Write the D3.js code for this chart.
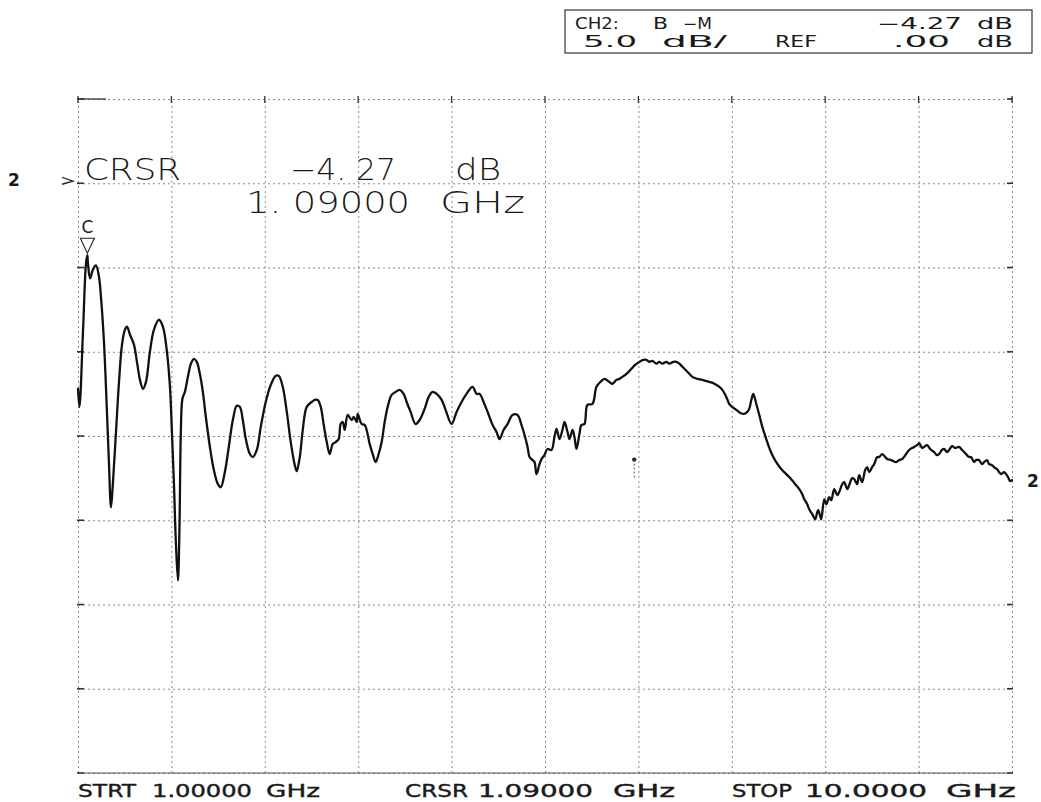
<!DOCTYPE html>
<html>
<head>
<meta charset="utf-8">
<script src="https://cdn.jsdelivr.net/npm/d3@7/dist/d3.min.js"></script>
<style>
  body { margin: 0; background: #fff; }
  svg { display: block; }
  .grid line { stroke: #8a8a8a; stroke-dasharray: 2,3; stroke-width: 1; }
  .grid path { display: none; }
  text { fill: #1a1a1a; font-family: "DejaVu Sans", sans-serif; }
</style>
</head>
<body>
<script>
// trace, frequency in GHz and magnitude in dB
const freqGHz = [1.000, 1.014, 1.048, 1.077, 1.090, 1.096, 1.116, 1.144, 1.173, 1.202, 1.221, 1.250, 1.279, 1.298, 1.318, 1.337, 1.366, 1.395, 1.424, 1.452,
  1.472, 1.501, 1.539, 1.568, 1.597, 1.626, 1.655, 1.693, 1.732, 1.780, 1.818, 1.857, 1.886, 1.905, 1.924, 1.943, 1.963, 1.977, 1.991, 2.006,
  2.030, 2.059, 2.088, 2.117, 2.145, 2.174, 2.203, 2.232, 2.271, 2.309, 2.348, 2.376, 2.415, 2.453, 2.492, 2.530, 2.559, 2.588, 2.617, 2.656,
  2.684, 2.723, 2.761, 2.809, 2.858, 2.906, 2.935, 2.973, 3.012, 3.050, 3.089, 3.108, 3.137, 3.166, 3.204, 3.252, 3.281, 3.310, 3.339, 3.368,
  3.397, 3.425, 3.454, 3.483, 3.512, 3.531, 3.551, 3.570, 3.599, 3.637, 3.657, 3.686, 3.695, 3.734, 3.763, 3.811, 3.840, 3.868, 3.897, 3.926,
  3.955, 3.984, 4.022, 4.061, 4.099, 4.138, 4.167, 4.205, 4.253, 4.292, 4.340, 4.379, 4.417, 4.456, 4.504, 4.542, 4.600, 4.648, 4.696, 4.744,
  4.802, 4.841, 4.870, 4.908, 4.947, 4.995, 5.033, 5.062, 5.101, 5.139, 5.187, 5.235, 5.274, 5.303, 5.332, 5.351, 5.380, 5.399, 5.418, 5.447,
  5.466, 5.495, 5.524, 5.562, 5.591, 5.611, 5.640, 5.668, 5.688, 5.717, 5.736, 5.765, 5.784, 5.803, 5.832, 5.851, 5.880, 5.909, 5.957, 5.996,
  6.034, 6.073, 6.121, 6.150, 6.188, 6.217, 6.246, 6.285, 6.333, 6.371, 6.410, 6.448, 6.477, 6.506, 6.535, 6.573, 6.602, 6.631, 6.670, 6.698,
  6.737, 6.766, 6.795, 6.824, 6.872, 6.920, 6.968, 7.016, 7.083, 7.132, 7.180, 7.209, 7.247, 7.276, 7.315, 7.343, 7.382, 7.420, 7.449, 7.468,
  7.488, 7.507, 7.536, 7.565, 7.594, 7.632, 7.661, 7.690, 7.728, 7.776, 7.825, 7.873, 7.911, 7.950, 7.979, 7.998, 8.027, 8.046, 8.075, 8.104,
  8.123, 8.133, 8.152, 8.162, 8.191, 8.210, 8.239, 8.258, 8.287, 8.316, 8.335, 8.364, 8.383, 8.412, 8.431, 8.460, 8.479, 8.508, 8.527, 8.556,
  8.585, 8.604, 8.624, 8.652, 8.672, 8.701, 8.720, 8.749, 8.778, 8.797, 8.835, 8.883, 8.912, 8.941, 8.980, 9.009, 9.057, 9.086, 9.105, 9.134,
  9.153, 9.182, 9.211, 9.249, 9.278, 9.297, 9.326, 9.345, 9.374, 9.394, 9.423, 9.451, 9.490, 9.519, 9.557, 9.586, 9.605, 9.634, 9.654, 9.682,
  9.711, 9.731, 9.759, 9.779, 9.808, 9.837, 9.856, 9.875, 9.894, 9.923, 9.942, 9.962, 9.981, 10.000];

const magDB = [-12.20, -13.27, -8.81, -4.76, -4.27, -4.76, -5.65, -5.12, -4.88, -5.54, -6.73, -9.40, -13.57, -16.55, -19.23, -17.74, -14.76, -11.79, -9.58, -8.69,
  -8.51, -8.99, -9.58, -10.60, -11.67, -12.20, -11.79, -10.00, -8.69, -8.10, -8.51, -10.00, -12.08, -14.76, -17.74, -21.31, -23.57, -20.71, -14.76, -12.80,
  -12.38, -11.49, -10.71, -10.42, -10.60, -11.31, -12.38, -13.87, -15.65, -17.02, -17.86, -18.04, -17.14, -15.65, -14.05, -13.21, -13.27, -14.05, -15.18, -16.07,
  -16.25, -15.83, -14.46, -12.98, -11.96, -11.43, -11.43, -12.08, -13.57, -15.36, -16.73, -17.08, -16.25, -14.64, -13.27, -12.98, -12.86, -12.86, -13.27, -14.35,
  -15.36, -16.07, -15.48, -15.36, -15.18, -14.29, -14.17, -14.64, -13.75, -14.05, -13.87, -14.17, -13.69, -14.29, -14.35, -15.48, -16.07, -16.55, -16.07, -15.36,
  -14.17, -13.27, -12.56, -12.38, -12.26, -12.50, -12.98, -13.57, -14.29, -14.05, -13.39, -12.68, -12.38, -12.50, -12.86, -13.45, -14.29, -13.57, -12.98, -12.50,
  -12.08, -12.50, -12.50, -12.98, -13.57, -14.35, -14.76, -15.18, -14.64, -14.29, -13.75, -13.75, -14.35, -14.94, -15.65, -16.25, -16.43, -16.55, -17.26, -16.67,
  -16.37, -16.13, -15.77, -15.83, -15.06, -14.58, -15.18, -14.64, -14.17, -14.76, -15.18, -14.64, -15.06, -15.77, -14.88, -14.35, -14.29, -13.15, -13.10, -12.08,
  -11.79, -11.61, -11.79, -11.90, -11.67, -11.61, -11.49, -11.31, -11.01, -10.77, -10.60, -10.48, -10.48, -10.60, -10.54, -10.71, -10.60, -10.71, -10.60, -10.71,
  -10.60, -10.60, -10.71, -10.89, -11.19, -11.49, -11.61, -11.67, -11.79, -11.90, -12.08, -12.26, -12.68, -13.10, -13.33, -13.45, -13.63, -13.69, -13.57, -13.39,
  -12.86, -12.50, -13.10, -13.75, -14.46, -15.18, -15.71, -16.13, -16.55, -16.96, -17.26, -17.56, -17.86, -18.15, -18.45, -18.75, -19.05, -19.35, -19.64, -19.94,
  -19.52, -19.40, -19.76, -19.94, -18.75, -19.05, -18.63, -18.81, -18.15, -18.51, -18.33, -17.86, -17.74, -18.15, -17.92, -17.50, -17.56, -17.86, -17.32, -17.74,
  -17.02, -16.85, -17.14, -16.85, -16.67, -16.25, -16.25, -16.07, -16.25, -16.37, -16.43, -16.55, -16.43, -16.37, -16.07, -15.83, -15.65, -15.54, -15.42, -15.71,
  -15.65, -15.54, -15.77, -15.95, -16.13, -16.07, -15.83, -15.77, -15.95, -15.83, -15.60, -15.71, -15.65, -15.83, -16.07, -16.25, -16.25, -16.55, -16.43, -16.43,
  -16.67, -16.55, -16.43, -16.67, -16.73, -16.90, -16.96, -17.14, -17.26, -17.14, -17.26, -17.44, -17.68, -17.62];

// instrument settings shown on the sheet
const startGHz = 1, stopGHz = 10, cursorGHz = 1.09, cursorDB = -4.27;
const refDB = 0, dbPerDiv = 5, xDivs = 10, yDivs = 8;
const headerRow1 = ["CH2:", "B", "-M", "-4.27", "dB"];
const headerRow2 = ["5.0", "dB/", "REF", ".00", "dB"];
const bottomLabels = [["STRT", "1.00000", "GHz"], ["CRSR", "1.09000", "GHz"], ["STOP", "10.0000", "GHz"]];

let width = 1041, height = 802;
let plotLeft = 78, plotRight = 1012, plotTop = 99, plotBottom = 773;

let svg = d3.select('body').append('svg')
  .attr('width', width)
  .attr('height', height);

let xScale = d3.scaleLinear().domain([startGHz, stopGHz]).range([plotLeft, plotRight]);
let yScale = d3.scaleLinear()
  .domain([refDB + dbPerDiv, refDB - (yDivs - 1) * dbPerDiv])
  .range([plotTop, plotBottom]);

let xTicks = d3.range(xDivs + 1).map(i => startGHz + i * (stopGHz - startGHz) / xDivs);
let yTicks = d3.range(yDivs + 1).map(i => refDB + dbPerDiv - i * dbPerDiv);

// dotted graticule
svg.append('g')
  .attr('class', 'grid')
  .attr('transform', `translate(0,${plotBottom})`)
  .call(d3.axisBottom(xScale).tickValues(xTicks).tickSize(-(plotBottom - plotTop)).tickFormat(''));
svg.append('g')
  .attr('class', 'grid')
  .attr('transform', `translate(${plotLeft},0)`)
  .call(d3.axisLeft(yScale).tickValues(yTicks).tickSize(-(plotRight - plotLeft)).tickFormat(''));

// solid little ticks where the graticule meets the frame
svg.append('g').selectAll('line')
  .data(xTicks).enter().append('line')
  .attr('x1', d => xScale(d)).attr('x2', d => xScale(d))
  .attr('y1', plotTop - 3).attr('y2', plotTop + 4)
  .attr('stroke', '#333').attr('stroke-width', 1.3);
svg.append('g').selectAll('line')
  .data(yTicks).enter().append('line')
  .attr('x1', plotRight - 5).attr('x2', plotRight + 1)
  .attr('y1', d => yScale(d)).attr('y2', d => yScale(d))
  .attr('stroke', '#333').attr('stroke-width', 1.6);
svg.append('g').selectAll('line')
  .data(yTicks).enter().append('line')
  .attr('x1', plotLeft - 1).attr('x2', plotLeft + 6)
  .attr('y1', d => yScale(d)).attr('y2', d => yScale(d))
  .attr('stroke', '#333').attr('stroke-width', 1.6);
svg.append('line')
  .attr('x1', plotLeft).attr('x2', plotRight)
  .attr('y1', plotBottom).attr('y2', plotBottom)
  .attr('stroke', '#555').attr('stroke-width', 1);
svg.append('line')
  .attr('x1', plotLeft).attr('x2', plotLeft + 28)
  .attr('y1', plotTop).attr('y2', plotTop)
  .attr('stroke', '#333').attr('stroke-width', 1.3);

// trace
let points = freqGHz.map((f, i) => [f, magDB[i]]);
let line = d3.line()
  .x(d => xScale(d[0]))
  .y(d => yScale(d[1]))
  .curve(d3.curveCatmullRom.alpha(0.5));
svg.append('path')
  .datum(points)
  .attr('d', line)
  .attr('fill', 'none')
  .attr('stroke', '#111')
  .attr('stroke-width', 2.3)
  .attr('stroke-linejoin', 'round')
  .attr('stroke-linecap', 'round');

// cursor marker: C over an open triangle
let cx = xScale(cursorGHz), cy = yScale(cursorDB);
svg.append('path')
  .attr('d', `M${cx - 7},${cy - 17} L${cx + 7},${cy - 17} L${cx},${cy - 2} Z`)
  .attr('fill', 'none').attr('stroke', '#222').attr('stroke-width', 1.1);
svg.append('text')
  .attr('x', cx).attr('y', cy - 22)
  .attr('text-anchor', 'middle')
  .style('font-size', '17px')
  .text('C');

// reference-line marker on the left, trace number on the right
let refY = yScale(refDB);
svg.append('text').attr('x', 8).attr('y', refY + 3)
  .style('font-size', '17px').style('font-weight', 'bold').text('2');
svg.append('path')
  .attr('d', `M62,${refY - 6} L73,${refY - 2} L62,${refY + 1}`)
  .attr('fill', 'none').attr('stroke', '#222').attr('stroke-width', 1.3);
svg.append('text').attr('x', 1027).attr('y', yScale(magDB[magDB.length - 1]) + 7)
  .style('font-size', '17px').style('font-weight', 'bold').text('2');

// stray pen dot near the middle
svg.append('circle').attr('cx', xScale(6.36)).attr('cy', yScale(-16.4)).attr('r', 2.2).attr('fill', '#222');
svg.append('line')
  .attr('x1', xScale(6.36)).attr('x2', xScale(6.36))
  .attr('y1', yScale(-16.4)).attr('y2', yScale(-17.6))
  .attr('stroke', '#555').attr('stroke-dasharray', '2,2');

// plotter lettering is wide, so each word is stretched to the width it has on the sheet
function wideText(g, str, x, y, w) {
  return g.append('text')
    .attr('x', x).attr('y', y)
    .attr('textLength', w)
    .attr('lengthAdjust', 'spacingAndGlyphs')
    .text(str);
}

// cursor readout
let big = svg.append('g').style('font-size', '30px').style('font-weight', '300');
wideText(big, 'CRSR', 84, 180, 97);
wideText(big, cursorDB.toFixed(2).replace('-', '−').replace('.', '. '), 290, 180, 106);
wideText(big, 'dB', 455, 180, 46);
wideText(big, '1. 09000', 246, 213, 164);
wideText(big, 'GHz', 440, 213, 85);

// header box
svg.append('rect')
  .attr('x', 565).attr('y', 10).attr('width', 467).attr('height', 43)
  .attr('fill', 'none').attr('stroke', '#333').attr('stroke-width', 1.2);
let hx1 = [[575, 44], [653, 15], [683, 29], [877, 85], [977, 36]];
let hx2 = [[583, 54], [662, 65], [775, 42], [893, 57], [977, 36]];
let head = svg.append('g').style('font-size', '15px');
headerRow1.forEach((t, i) => wideText(head, t.replace('-', '−'), hx1[i][0], 29, hx1[i][1]));
headerRow2.forEach((t, i) => wideText(head, t, hx2[i][0], 47, hx2[i][1]));

// bottom annotation
let bx = [[[78, 58], [152, 100], [266, 54]], [[405, 63], [478, 115], [613, 62]], [[732, 60], [805, 122], [946, 70]]];
let foot = svg.append('g').style('font-size', '18px').style('stroke', '#1a1a1a').style('stroke-width', 0.4);
bottomLabels.forEach((grp, gi) => {
  grp.forEach((t, ti) => wideText(foot, t, bx[gi][ti][0], 797, bx[gi][ti][1]));
});
</script>
</body>
</html>
